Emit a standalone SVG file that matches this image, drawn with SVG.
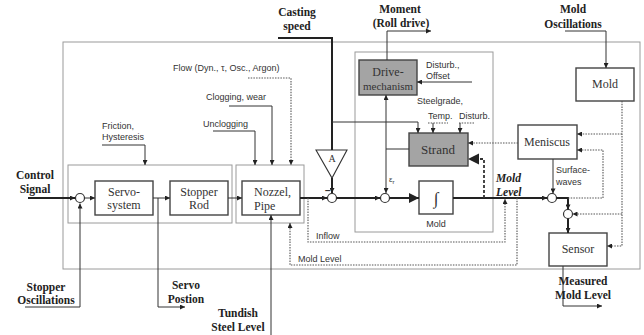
<svg xmlns="http://www.w3.org/2000/svg" width="644" height="335" viewBox="0 0 644 335">
<defs>
<marker id="a" viewBox="0 0 6 6" refX="6" refY="3" markerWidth="6" markerHeight="5" markerUnits="userSpaceOnUse" orient="auto"><path d="M0,0 L6,3 L0,6 z" fill="#222"/></marker>
<marker id="big" viewBox="0 0 10 10" refX="10" refY="5" markerWidth="11" markerHeight="10" markerUnits="userSpaceOnUse" orient="auto"><path d="M0,0 L10,5 L0,10 z" fill="#222"/></marker>
<style>
.fr{fill:none;stroke:#9a9a9a;stroke-width:1}
.bx{fill:#fff;stroke:#444;stroke-width:1.4}
.gb{fill:#a4a4a4;stroke:#444;stroke-width:1.4}
.ln{fill:none;stroke:#333;stroke-width:1}
.th{fill:none;stroke:#222;stroke-width:2}
.dt{fill:none;stroke:#555;stroke-width:1.1;stroke-dasharray:1.5,1.2}
.ds{fill:none;stroke:#333;stroke-width:1.8;stroke-dasharray:3,2}
.sum{fill:#fff;stroke:#333;stroke-width:1.2}
.hd{font-family:"Liberation Serif",serif;font-weight:bold;font-size:11.5px;fill:#222;text-anchor:middle}
.bt{font-family:"Liberation Serif",serif;font-size:12px;fill:#333;text-anchor:middle}
.sn{font-family:"Liberation Sans",Arial,sans-serif;font-size:9px;fill:#333}
</style>
</defs>

<g id="frames">
<rect class="fr" x="63" y="42" width="577" height="227"/>
<rect class="fr" x="68" y="165" width="164" height="58"/>
<rect class="fr" x="236" y="165" width="68" height="58"/>
<rect class="fr" x="355" y="52" width="138" height="180"/>
</g>

<g id="servo"><rect class="bx" x="95" y="181" width="58" height="34"/><text class="bt" x="124" y="196">Servo-</text><text class="bt" x="124" y="209">system</text></g>
<g id="stopper"><rect class="bx" x="170" y="181" width="58" height="34"/><text class="bt" x="199" y="196">Stopper</text><text class="bt" x="199" y="209">Rod</text></g>
<g id="nozzle"><rect class="bx" x="242" y="181" width="58" height="34"/><text class="bt" x="254" y="196" style="text-anchor:start">Nozzel,</text><text class="bt" x="254" y="210" style="text-anchor:start">Pipe</text></g>
<g id="drive"><rect class="gb" x="359" y="60" width="58" height="35"/><text class="bt" x="388" y="76">Drive-</text><text class="bt" x="388" y="90" style="font-size:11px">mechanism</text></g>
<g id="strand"><rect class="gb" x="409" y="133" width="59" height="33"/><text class="bt" x="438" y="154" style="font-size:13px">Strand</text></g>
<g id="integrator"><rect class="bx" x="419" y="181" width="34" height="33"/><text class="bt" x="436" y="204" style="font-size:17px">∫</text><text class="sn" x="436" y="227" style="text-anchor:middle">Mold</text></g>
<g id="mold"><rect class="bx" x="576" y="68" width="58" height="33"/><text class="bt" x="605" y="88">Mold</text></g>
<g id="meniscus"><rect class="bx" x="518" y="125" width="59" height="34"/><text class="bt" x="547" y="146">Meniscus</text></g>
<g id="sensor"><rect class="bx" x="549" y="233" width="58" height="33"/><text class="bt" x="578" y="253">Sensor</text></g>
<g id="amp"><path d="M316,150 L347,150 L332,178 z" fill="#fff" stroke="#333" stroke-width="1.1"/><text class="bt" x="332" y="162" style="font-size:10px">A</text></g>
<g id="sums">
<circle class="sum" cx="80" cy="198" r="4.5"/>
<circle class="sum" cx="332" cy="198" r="4.5"/>
<circle class="sum" cx="385" cy="198" r="4.5"/>
<circle class="sum" cx="552" cy="198" r="4.5"/>
<circle class="sum" cx="568" cy="214" r="4.5"/>
</g>

<g id="connectors">
<path class="th" d="M28,198 H75" marker-end="url(#a)"/>
<path class="ln" d="M25,307 H80 V203.5" marker-end="url(#a)"/>
<path class="ln" d="M84.5,198 H95" marker-end="url(#a)"/>
<path class="ln" d="M153,198 H170" marker-end="url(#a)"/>
<path class="ln" d="M158,198 V307 H185" marker-end="url(#a)"/>
<path class="ln" d="M228,198 H242" marker-end="url(#a)"/>
<path class="ln" d="M271,335 V215" marker-end="url(#a)"/>
<path class="th" d="M300,198 H327" marker-end="url(#a)"/>
<path class="th" d="M278,38 H332 V150"/>
<path class="th" d="M332,178 V193" marker-end="url(#a)"/>
<path class="ln" d="M332,122 H418 V133" marker-end="url(#a)"/>
<path class="th" d="M336.5,198 H380" marker-end="url(#a)"/>
<path class="th" d="M389.5,198 H419" marker-end="url(#big)"/>
<path class="ln" d="M409,149 H386 V193" marker-end="url(#a)"/>
<path class="ln" d="M386,149 V95" marker-end="url(#a)"/>
<path class="ln" d="M387,60 V31 H431" marker-end="url(#a)"/>
<path class="ln" d="M472,82 H417" marker-end="url(#a)"/>
<path class="dt" d="M428,123 H448"/>
<path class="ln" d="M433,123 V133" marker-end="url(#a)"/>
<path class="dt" d="M459,123 H474"/>
<path class="ln" d="M460,123 V133" marker-end="url(#a)"/>
<path class="th" d="M453,198 H547" marker-end="url(#a)"/>
<path class="ds" d="M484,198 V159 H478"/>
<path d="M468,159 L479,153.5 L479,164.5 z" fill="#222"/>
<path class="dt" d="M518,143 H468" marker-end="url(#a)"/>
<path class="ln" d="M553,159 V193.5" marker-end="url(#a)"/>
<path class="th" d="M556.5,198 H568 V209.5" marker-end="url(#a)"/>
<path class="th" d="M568,218.5 V233" marker-end="url(#a)"/>
<path class="dt" d="M568,198 H603 V150 H577" marker-end="url(#a)"/>
<path class="ln" d="M565,31 H606 V68" marker-end="url(#a)"/>
<path class="dt" d="M622,101 V246 H607" marker-end="url(#a)"/>
<path class="dt" d="M622,134 H577" marker-end="url(#a)"/>
<path class="dt" d="M622,214 H572.5" marker-end="url(#a)"/>
<path class="ln" d="M563,266 V306 H602" marker-end="url(#a)"/>
<path class="dt" d="M308,198 V242 H505 V199" marker-end="url(#a)"/>
<path class="dt" d="M517,198 V265 H290 V223" marker-end="url(#a)"/>
<path class="ln" d="M102,145 H145 V165" marker-end="url(#a)"/>
<path class="ln" d="M213,131 H255 V165" marker-end="url(#a)"/>
<path class="ln" d="M229,106 H272 V165" marker-end="url(#a)"/>
<path class="dt" d="M248,78 H291 V165" marker-end="url(#a)"/>
</g>

<g id="labels">
<text class="hd" x="35" y="179">Control</text>
<text class="hd" x="35" y="193">Signal</text>
<text class="hd" x="46" y="291">Stopper</text>
<text class="hd" x="46" y="304">Oscillations</text>
<text class="hd" x="186" y="289">Servo</text>
<text class="hd" x="186" y="303">Postion</text>
<text class="hd" x="238" y="317">Tundish</text>
<text class="hd" x="238" y="331">Steel Level</text>
<text class="hd" x="297" y="16">Casting</text>
<text class="hd" x="297" y="30">speed</text>
<text class="hd" x="400" y="13">Moment</text>
<text class="hd" x="401" y="27">(Roll drive)</text>
<text class="hd" x="573" y="13">Mold</text>
<text class="hd" x="573" y="28">Oscillations</text>
<text class="hd" x="583" y="285">Measured</text>
<text class="hd" x="583" y="299">Mold Level</text>
<text class="hd" x="496" y="182" style="font-style:italic;text-anchor:start">Mold</text>
<text class="hd" x="496" y="196" style="font-style:italic;text-anchor:start">Level</text>
<text class="sn" x="173" y="71">Flow (Dyn., τ, Osc., Argon)</text>
<text class="sn" x="206" y="100">Clogging, wear</text>
<text class="sn" x="203" y="127">Unclogging</text>
<text class="sn" x="102" y="129">Friction,</text>
<text class="sn" x="102" y="140">Hysteresis</text>
<text class="sn" x="426" y="68">Disturb.,</text>
<text class="sn" x="426" y="79">Offset</text>
<text class="sn" x="417" y="104">Steelgrade,</text>
<text class="sn" x="428" y="119">Temp.</text>
<text class="sn" x="459" y="119">Disturb.</text>
<text class="sn" x="556" y="173">Surface-</text>
<text class="sn" x="556" y="185">waves</text>
<text class="sn" x="316" y="239">Inflow</text>
<text class="sn" x="298" y="262">Mold Level</text>
<text class="sn" x="389" y="182" style="font-size:8px">ε<tspan dy="2" style="font-size:6px">r</tspan></text>
<text class="sn" x="325" y="194" style="font-size:10px;font-weight:bold">−</text>
</g>
</svg>
